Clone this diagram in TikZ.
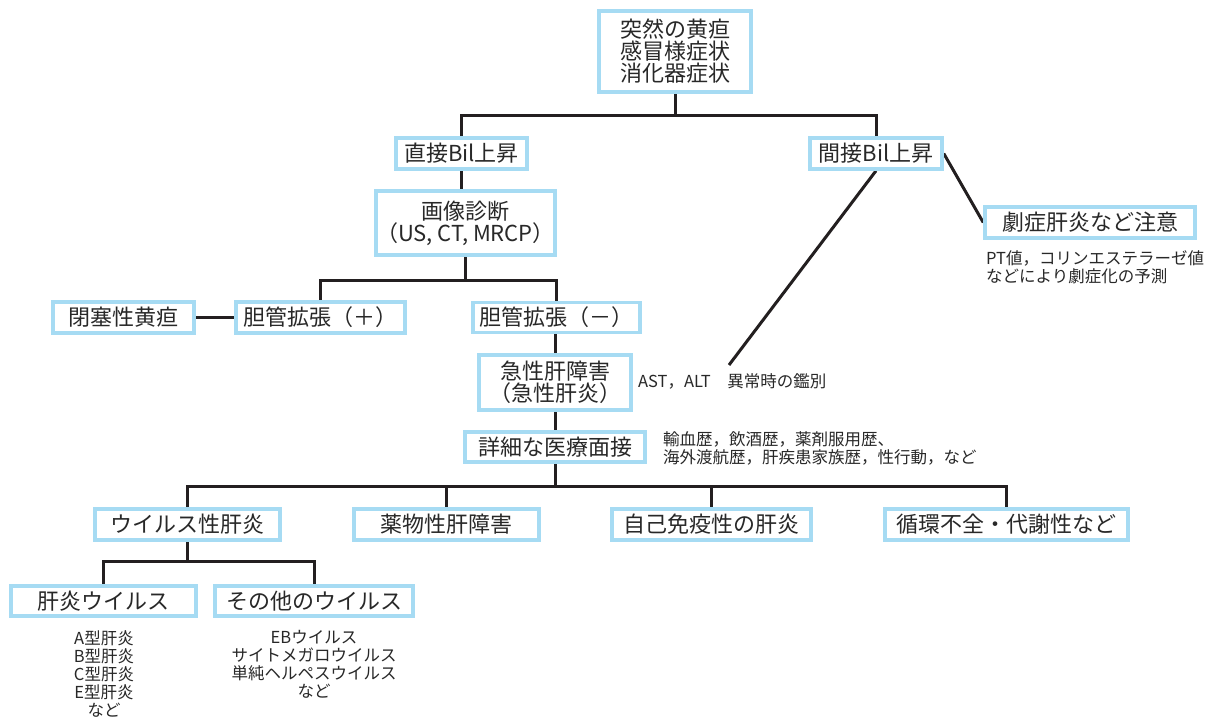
\documentclass[tikz,border=0pt]{standalone}
\usepackage{fontspec}
\setmainfont{Noto Sans CJK JP}
\definecolor{boxblue}{RGB}{166,219,243}
\definecolor{txt}{RGB}{40,40,40}
\definecolor{ln}{RGB}{35,31,32}
\pgfdeclarelayer{bg}
\pgfsetlayers{bg,main}
\begin{document}
\begin{tikzpicture}[x=1pt,y=-1pt,
  box/.style={draw=boxblue, line width=3.5pt, fill=white, text=txt,
    font=\fontsize{22}{22}\selectfont, align=center, inner sep=0pt},
  conn/.style={draw=ln, line width=3pt},
  note/.style={text=txt, font=\fontsize{16.5}{18}\selectfont, inner sep=0pt}]
\useasboundingbox (0,0) rectangle (1207,720);

\node[box, minimum width=152, minimum height=81] (top) at (675,51.5) {突然の黄疸\\感冒様症状\\消化器症状};
\node[box, minimum width=131, minimum height=31] (chok) at (461.5,153.5) {直接Bil上昇};
\node[box, minimum width=132, minimum height=31] (kan) at (876,153.5) {間接Bil上昇};
\node[box, minimum width=169, minimum height=64] (gazo) at (465.5,223) {画像診断\\（US, CT, MRCP）};
\node[box, minimum width=141, minimum height=31] (heisoku) at (123.5,317.5) {閉塞性黄疸};
\node[box, minimum width=169, minimum height=31] (tanp) at (320.5,317.5) {胆管拡張（＋）};
\node[box, minimum width=167, minimum height=30] (tanm) at (556.5,317.5) {胆管拡張（－）};
\node[box, minimum width=152, minimum height=55] (kyusei) at (555,382.5) {急性肝障害\\（急性肝炎）};
\node[box, minimum width=180, minimum height=30] (shosai) at (555,447) {詳細な医療面接};
\node[box, minimum width=185, minimum height=31] (virus) at (187.5,524.5) {ウイルス性肝炎};
\node[box, minimum width=185, minimum height=31] (yakubutsu) at (446.5,524.5) {薬物性肝障害};
\node[box, minimum width=199, minimum height=31] (jiko) at (711.5,524.5) {自己免疫性の肝炎};
\node[box, minimum width=243, minimum height=31] (junkan) at (1006.5,524.5) {循環不全・代謝性など};
\node[box, minimum width=185, minimum height=30] (kanen) at (103.5,601) {肝炎ウイルス};
\node[box, minimum width=198, minimum height=30] (sonota) at (314,601) {その他のウイルス};
\node[box, minimum width=210, minimum height=31] (geki) at (1090,222.5) {劇症肝炎など注意};

\node[note, anchor=west] (astnote) at (638,381) {AST，ALT　異常時の鑑別};
\node[note, anchor=west, align=left] (shosainote) at (663,448) {輸血歴，飲酒歴，薬剤服用歴、\\海外渡航歴，肝疾患家族歴，性行動，など};
\node[note, anchor=west, align=left] (gekinote) at (986,267) {PT値，コリンエステラーゼ値\\などにより劇症化の予測};
\node[note, align=center] (kanenlist) at (104,674) {A型肝炎\\B型肝炎\\C型肝炎\\E型肝炎\\など};
\node[note, align=center] (sonotalist) at (314,664.5) {EBウイルス\\サイトメガロウイルス\\単純ヘルペスウイルス\\など};

\coordinate (j1) at (675,115);
\coordinate (j2) at (465.5,280);
\coordinate (j3) at (555,486);
\coordinate (j4) at (187.5,561);
\coordinate (astend) at (729,365);

\begin{pgfonlayer}{bg}
\fill[white] (0,0) rectangle (1207,720);
\draw[conn] (top.south) -- (j1);
\draw[conn] (chok.north) |- (j1) -| (kan.north);
\draw[conn] (chok.south) -- (chok.south |- gazo.north);
\draw[conn] (gazo.south) -- (j2);
\draw[conn] (tanp.north) |- (j2) -| (tanm.north);
\draw[conn] (heisoku.east) -- (tanp.west);
\draw[conn] (kyusei.north |- tanm.south) -- (kyusei.north);
\draw[conn] (kyusei.south) -- (shosai.north);
\draw[conn] (shosai.south) -- (j3);
\draw[conn] (virus.north) |- (j3) -| (junkan.north);
\draw[conn] (yakubutsu.north) -- (yakubutsu.north |- j3);
\draw[conn] (jiko.north) -- (jiko.north |- j3);
\draw[conn] (virus.south) -- (j4);
\draw[conn] (kanen.north) |- (j4) -| (sonota.north);
\draw[conn] (kan.south) -- (astend);
\draw[conn] (kan.east) -- (geki.west);
\end{pgfonlayer}
\end{tikzpicture}
\end{document}
